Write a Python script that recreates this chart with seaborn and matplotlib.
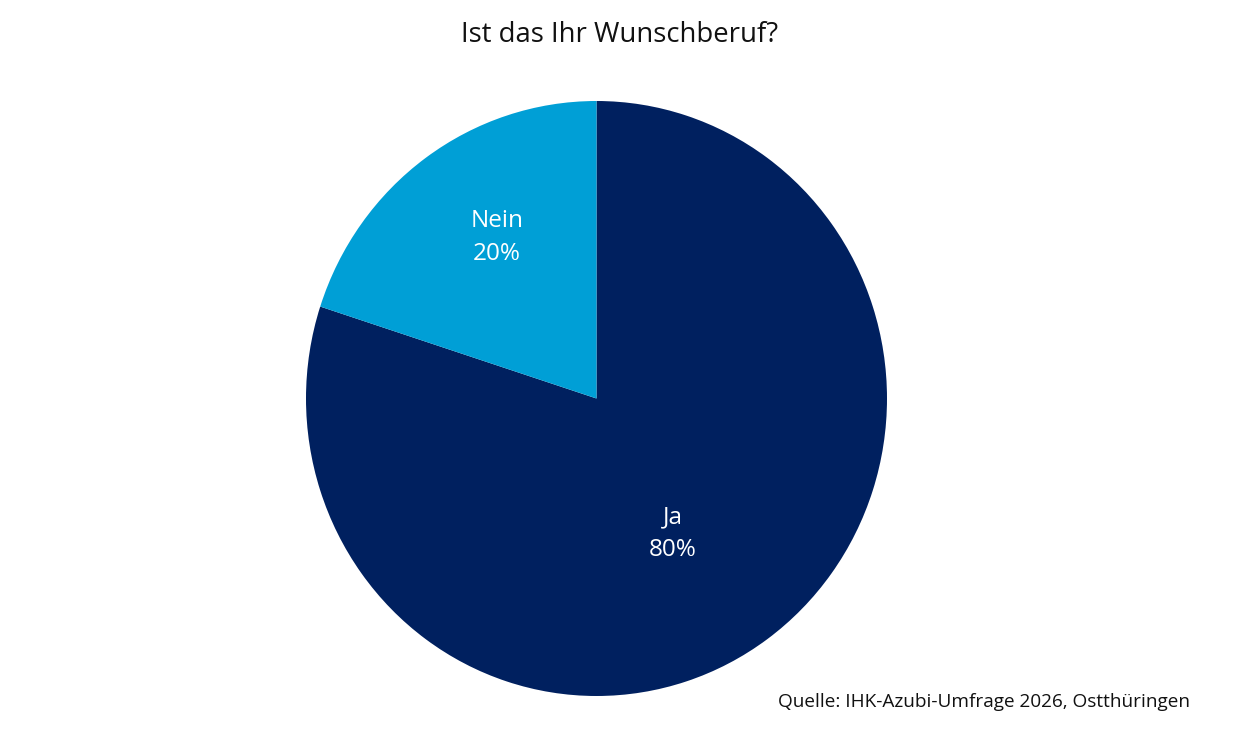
import numpy as np
import matplotlib
matplotlib.use("Agg")
import matplotlib.pyplot as plt
import seaborn as sns
from matplotlib import font_manager

categories = ["Ja", "Nein"]
values = [80, 20]
colors = ["#00205F", "#009FD6"]
title = "Ist das Ihr Wunschberuf?"
source = "Quelle: IHK-Azubi-Umfrage 2026, Ostthüringen"

# label placement style (fraction of radius, angular shift in degrees)
label_radius = [0.517, 0.648]
label_shift = [-5.4, -4.1]

sns.set_theme(style="white")
names = {f.name for f in font_manager.fontManager.ttflist}
fam = "Liberation Sans Narrow" if "Liberation Sans Narrow" in names else "Open Sans"
plt.rcParams['font.family'] = [fam, 'DejaVu Sans']

W, H = 1240, 741
fig = plt.figure(figsize=(W / 100, H / 100), dpi=100)
fig.patch.set_facecolor("white")
cx, cy, rx, ry = 596.5, 398.5, 290.5, 297.5
ax = fig.add_axes([(cx - rx) / W, (H - cy - ry) / H, 2 * rx / W, 2 * ry / H])
wedges, _ = ax.pie(values, colors=colors, startangle=90, counterclock=False,
                   radius=1.0, wedgeprops=dict(linewidth=0))
ax.set_aspect("auto")
ax.set_xlim(-1, 1)
ax.set_ylim(-1, 1)
ax.axis("off")

for w, cat, v, lr, sh in zip(wedges, categories, values, label_radius, label_shift):
    mid = np.deg2rad((w.theta1 + w.theta2) / 2 + sh)
    ax.text(lr * np.cos(mid), lr * np.sin(mid) - 0.01, f"{cat}\n{v}%", ha="center", va="center",
            color="white", fontsize=17.5, linespacing=1.5)

fig.text(620 / W, 1 - 35 / H, title, ha="center", va="center", fontsize=19.8, color="#111111")
fig.text(1190 / W, 1 - 702 / H, source, ha="right", va="center", fontsize=13.7, color="#111111")

fig.savefig("out.png", dpi=100, facecolor="white")
